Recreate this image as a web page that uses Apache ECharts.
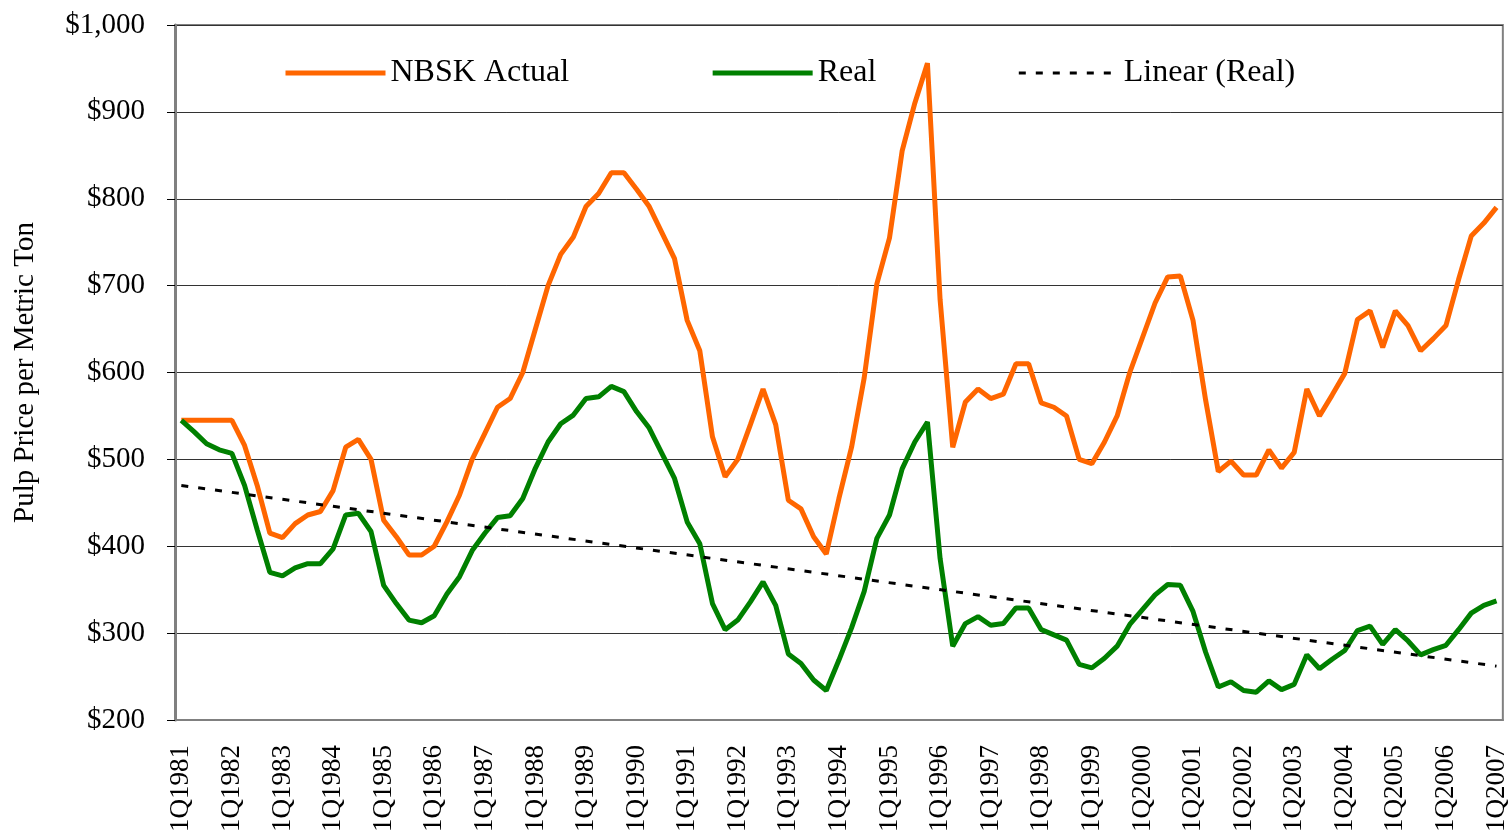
<!DOCTYPE html>
<html>
<head>
<meta charset="utf-8">
<title>Pulp Price per Metric Ton</title>
<script src="https://cdn.jsdelivr.net/npm/echarts@6/dist/echarts.min.js"></script>
<style>
  html, body { margin: 0; padding: 0; background: #fff; }
  #chart { width: 1510px; height: 835px; }
</style>
</head>
<body>
<div id="chart"></div>
<script>
// years shown on the axis, one point per quarter from 1Q1981 to 1Q2007
var years = [1981, 1982, 1983, 1984, 1985, 1986, 1987, 1988, 1989, 1990, 1991, 1992, 1993,
  1994, 1995, 1996, 1997, 1998, 1999, 2000, 2001, 2002, 2003, 2004, 2005, 2006, 2007];

// NBSK actual price, $/metric ton
var nbskActual = [
  545, 545, 545, 545, 545, 516, 470, 415, 410, 426, 436, 440, 464, 514, 523, 500,
  430, 411, 390, 390, 400, 428, 459, 500, 530, 560, 570, 600, 650, 700, 736, 756,
  791, 806, 830, 830, 811, 791, 761, 731, 660, 625, 526, 480, 500, 540, 581, 540,
  453, 443, 411, 391, 455, 514, 594, 702, 755, 855, 910, 956, 684, 514, 566, 581,
  570, 575, 610, 610, 565, 560, 550, 500, 495, 520, 550, 600, 640, 680, 710, 711,
  660, 568, 486, 498, 482, 482, 511, 490, 508, 581, 550, 574, 599, 661, 671, 629,
  671, 654, 625, 639, 654, 707, 757, 772, 790
];

// real (inflation adjusted) price, $/metric ton
var realPrice = [
  545, 532, 518, 511, 507, 470, 419, 370, 366, 375, 380, 380, 397, 436, 438, 417,
  355, 334, 315, 312, 320, 345, 365, 395, 415, 433, 435, 455, 490, 520, 541, 551,
  570, 572, 584, 578, 555, 536, 507, 478, 428, 403, 334, 304, 315, 336, 359, 332,
  276, 265, 246, 234, 269, 306, 348, 409, 436, 489, 520, 543, 386, 285, 311, 319,
  309, 311, 329, 329, 304, 298, 292, 264, 260, 271, 285, 310, 327, 344, 356, 355,
  325, 278, 238, 244, 234, 232, 245, 235, 241, 275, 259, 270, 280, 303, 308, 287,
  304, 291, 275, 281, 286, 304, 323, 332, 337
];

// ends of the Excel linear trendline on Real
var trendEnds = [470, 262];

var yTicks = [200, 300, 400, 500, 600, 700, 800, 900, 1000];

var categories = [];
years.forEach(function (y) {
  for (var q = 1; q <= 4; q++) {
    if (categories.length < realPrice.length) categories.push(q + 'Q' + y);
  }
});

var trendData = [
  [categories[0], trendEnds[0]],
  [categories[categories.length - 1], trendEnds[1]]
];

var serif = "'Liberation Serif', 'Times New Roman', serif";

var chart = echarts.init(document.getElementById('chart'));

var option = {
  animation: false,
  backgroundColor: '#ffffff',
  textStyle: { fontFamily: serif, color: '#000' },
  grid: {
    left: 175,
    right: 3,
    top: 25,
    bottom: 113,
    show: true,
    borderColor: '#808080',
    borderWidth: 2
  },
  legend: {
    left: 283,
    top: 57,
    padding: 0,
    itemWidth: 100,
    itemHeight: 14,
    itemGap: 141,
    // hide the marker dot, keep the line sample
    itemStyle: { opacity: 0 },
    lineStyle: { width: 'inherit' },
    textStyle: { fontFamily: serif, fontSize: 32, color: '#000' },
    data: ['NBSK Actual', 'Real', 'Linear (Real)']
  },
  xAxis: {
    type: 'category',
    data: categories,
    boundaryGap: true,
    axisLine: { lineStyle: { color: '#808080', width: 2 } },
    axisTick: { interval: 3, length: 10, lineStyle: { color: '#000' } },
    axisLabel: {
      interval: 3,
      rotate: 90,
      margin: 25,
      fontFamily: serif,
      fontSize: 27,
      color: '#000'
    },
    splitLine: { show: false }
  },
  yAxis: {
    type: 'value',
    min: yTicks[0],
    max: yTicks[yTicks.length - 1],
    interval: 100,
    name: 'Pulp Price per Metric Ton',
    nameLocation: 'middle',
    nameRotate: 90,
    nameGap: 135,
    nameTextStyle: { fontFamily: serif, fontSize: 29, color: '#000' },
    axisLine: { show: true, lineStyle: { color: '#808080', width: 3 } },
    axisTick: { show: true, length: 8, lineStyle: { color: '#000' } },
    axisLabel: {
      margin: 30,
      fontFamily: serif,
      fontSize: 29,
      color: '#000',
      formatter: function (v) {
        return '$' + v.toLocaleString('en-US');
      }
    },
    splitLine: { lineStyle: { color: '#333', width: 1 } }
  },
  series: [
    {
      name: 'NBSK Actual',
      type: 'line',
      data: nbskActual,
      symbol: 'none',
      color: '#ff6600',
      lineStyle: { color: '#ff6600', width: 5 }
    },
    {
      name: 'Real',
      type: 'line',
      data: realPrice,
      symbol: 'none',
      color: '#008000',
      lineStyle: { color: '#008000', width: 5 }
    },
    {
      name: 'Linear (Real)',
      type: 'line',
      data: trendData,
      symbol: 'none',
      color: '#000',
      lineStyle: { color: '#000', width: 3, type: [7, 10] }
    }
  ]
};

chart.setOption(option);
</script>
</body>
</html>
